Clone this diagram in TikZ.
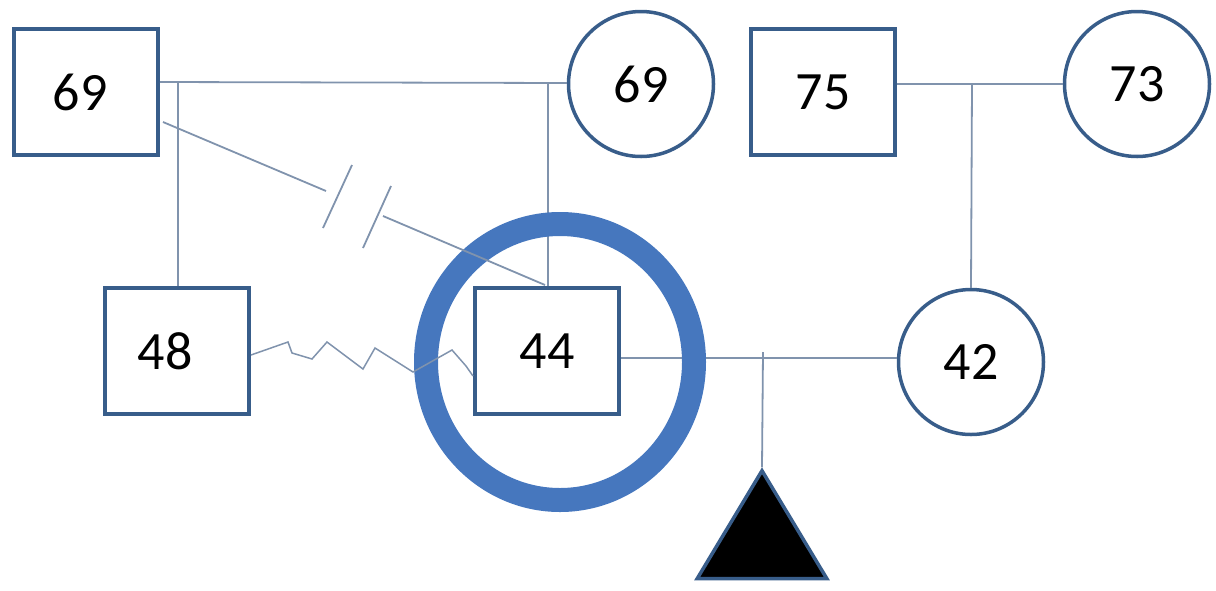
\documentclass[tikz,border=0pt]{standalone}
\usepackage{fontspec}
\setmainfont{Carlito}
\usetikzlibrary{shapes.geometric}
\definecolor{boxblue}{HTML}{385D8A}
\definecolor{ringblue}{HTML}{4677BE}
\definecolor{linkgray}{HTML}{8093AD}
\tikzset{
  person/.style={draw=boxblue, line width=4pt, fill=white, rectangle, inner sep=0pt,
    minimum width=144pt, minimum height=126pt, font=\fontsize{54}{60}\selectfont},
  female/.style={draw=boxblue, line width=3.5pt, fill=white, circle, inner sep=0pt,
    minimum size=145pt, font=\fontsize{54}{60}\selectfont},
  link/.style={draw=linkgray, line width=1.8pt},
  ringstyle/.style={draw=ringblue, line width=24pt, ellipse, inner sep=0pt,
    minimum width=268pt, minimum height=276pt},
  pregnancy/.style={draw=boxblue, line width=3.5pt, fill=black, isosceles triangle,
    isosceles triangle apex angle=62, shape border rotate=90, inner sep=0pt,
    minimum height=108pt, minimum width=128pt}
}
\begin{document}
\begin{tikzpicture}[x=1pt,y=-1pt]
\useasboundingbox (0,0) rectangle (1216,590);
% coordinates of junctions
\coordinate (j1) at (178,82);
\coordinate (j2) at (548,83);
\coordinate (j3) at (972,84);
\coordinate (j4) at (763,358);
\coordinate (s1) at (326,191);
\coordinate (s2) at (383,216);

\node[person] (gf) at (86,92) {\hspace{-12pt}69};
\node[female] (gm) at (641,84) {69};
\node[person] (f75) at (823,92) {75};
\node[female] (m73) at (1137,84) {73};
\node[person] (b48) at (177,351) {\hspace{-24pt}48};
\node[person] (p44) at (547,351) {44};
\node[female] (w42) at (971,362) {42};
\node[pregnancy] (tri) at (762,542) {};

% links behind the ring
\draw[link] (gf.east |- j1) -- (gm.west |- j2);
\draw[link] (j1) -- (b48.north -| j1);
\draw[link] (j2) -- (p44.north -| j2);
\draw[link] (f75.east |- j3) -- (m73.west |- j3);
\draw[link] (j3) -- (w42.north);
\draw[link] (p44.east |- j4) -- (w42.west |- j4);
\draw[link] (j4 |- 0,352) -- (tri.apex);

\node[ringstyle] (ring) at (560,362) {};

% divorce line with double slash
\draw[link] (163,122) -- (s1);
\draw[link] (s2) -- (545,285);
\draw[link] (352,165) -- (323,228);
\draw[link] (391,186) -- (363,248);

% hostile relationship zigzag
\draw[link, line width=1.5pt] (b48.east |- 0,355) -- (288,342) -- (292,353) -- (312,359) -- (327,342)
  -- (363,369) -- (375,348) -- (413,372) -- (452,350) -- (466,366) -- (p44.west |- 0,376);
\end{tikzpicture}
\end{document}
